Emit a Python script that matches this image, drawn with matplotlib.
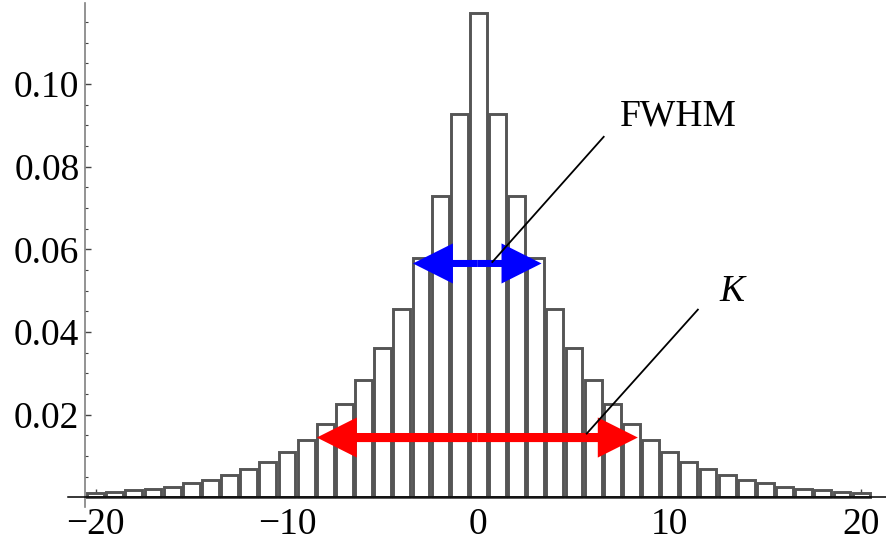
import numpy as np
import matplotlib
matplotlib.use("Agg")
import matplotlib.pyplot as plt
from matplotlib.patches import FancyArrow
from matplotlib.ticker import FixedLocator, MultipleLocator

plt.rcParams["font.family"] = ["Liberation Serif", "DejaVu Serif"]
plt.rcParams["axes.unicode_minus"] = True

# Histogram bins (unit width, centred on integers) and their normalised heights
bin_centers = np.arange(-20, 21)
bin_heights = [
    0.0010, 0.0014, 0.0017, 0.0021, 0.0026, 0.0034, 0.0042, 0.0054, 0.0069, 0.0087,
    0.0111, 0.0139, 0.0178, 0.0225, 0.0284, 0.0361, 0.0456, 0.0579, 0.0730, 0.0927,
    0.1171,
    0.0927, 0.0730, 0.0579, 0.0456, 0.0361, 0.0284, 0.0225, 0.0178, 0.0139, 0.0111,
    0.0087, 0.0069, 0.0054, 0.0042, 0.0034, 0.0026, 0.0021, 0.0017, 0.0014, 0.0010,
]

# Width markers: full width at half maximum and the wider K range
fwhm_left, fwhm_right, fwhm_level = -3.42, 3.30, 0.0566
k_left, k_right, k_level = -8.44, 8.33, 0.0145

# Leader lines for the labels
fwhm_leader_x, fwhm_leader_y = [0.70, 6.58], [0.0568, 0.0874]
k_leader_x, k_leader_y = [5.63, 11.50], [0.0153, 0.0456]

x_ticks = [-20, -10, 0, 10, 20]
x_tick_labels = ["\u221220", "\u221210", "0", "10", "20"]
y_ticks = [0.02, 0.04, 0.06, 0.08, 0.10]
y_tick_labels = ["0.02", "0.04", "0.06", "0.08", "0.10"]

W, H = 887, 541
fig = plt.figure(figsize=(W / 100, H / 100), dpi=100)
ax = fig.add_axes([68 / W, 34 / H, 819 / W, 504 / H])
ax.set_xlim(-21.44, 21.35)
ax.set_ylim(-0.0023, 0.1196)

ax.bar(bin_centers, bin_heights, width=0.88, color="white",
       edgecolor="#555555", linewidth=2.1, zorder=2)

# Axes drawn through the origin in Mathematica style
for side in ("top", "right"):
    ax.spines[side].set_visible(False)
ax.spines["left"].set_position(("data", -20.55))
ax.spines["bottom"].set_position(("data", 0))
ax.spines["left"].set_color("#808080")
ax.spines["left"].set_linewidth(1.2)
ax.spines["bottom"].set_color("black")
ax.spines["bottom"].set_linewidth(1.1)
ax.spines["bottom"].set_zorder(3)
ax.set_axisbelow(True)

ax.set_xticks(x_ticks)
ax.set_xticklabels(x_tick_labels)
ax.xaxis.set_minor_locator(MultipleLocator(2))
ax.set_yticks(y_ticks)
ax.set_yticklabels(y_tick_labels)
ax.yaxis.set_minor_locator(FixedLocator(
    [v for v in np.arange(0.005, 0.1196, 0.005) if round(v / 0.02, 6) % 1 != 0]))

ax.tick_params(axis="both", which="major", direction="in", labelsize=27,
               color="#444444", width=1.0)
ax.tick_params(axis="x", which="major", length=6, pad=7)
ax.tick_params(axis="x", which="minor", direction="in", length=3.5, width=0.8,
               color="#444444")
ax.tick_params(axis="y", which="major", length=4.5, pad=4)
ax.tick_params(axis="y", which="minor", direction="in", length=2.5, width=0.8,
               color="#444444")

# Double-headed width arrows
head_len = 2.09
head_w = 0.0097


def double_arrow(x0, x1, y, shaft, color):
    mid = 0.5 * (x0 + x1)
    for end in (x0, x1):
        ax.add_patch(FancyArrow(mid, y, end - mid, 0, width=shaft,
                                head_width=head_w, head_length=head_len,
                                length_includes_head=True, color=color,
                                linewidth=0, zorder=4))


double_arrow(fwhm_left, fwhm_right, fwhm_level, 0.0017, "#0000ff")
double_arrow(k_left, k_right, k_level, 0.0022, "#ff0000")

ax.plot(fwhm_leader_x, fwhm_leader_y, color="black", lw=1.3, zorder=5,
        solid_capstyle="butt")
ax.plot(k_leader_x, k_leader_y, color="black", lw=1.3, zorder=5,
        solid_capstyle="butt")

ax.text(7.40, 0.0899, "FWHM", fontsize=27, ha="left", va="baseline", zorder=6)
ax.text(12.62, 0.0476, "K", fontsize=27, fontstyle="italic", ha="left",
        va="baseline", zorder=6)

fig.savefig("out.png", dpi=100)
